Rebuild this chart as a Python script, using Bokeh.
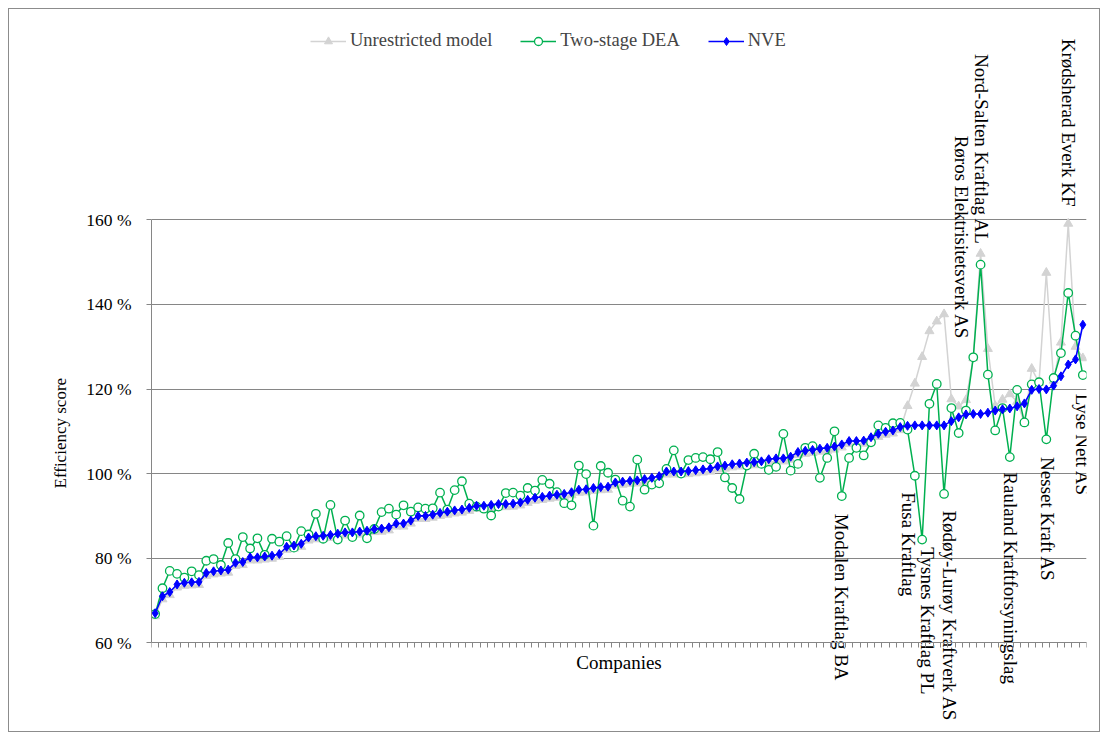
import math
from bokeh.plotting import figure
from bokeh.models import FixedTicker, Range1d, Legend, LegendItem, Title, LinearAxis, Grid
from bokeh.core.properties import value
from bokeh.embed import file_html
from bokeh.resources import INLINE

# ---------------- data (efficiency scores in %) ----------------
nve = [
    67.0, 71.0, 72.0, 73.8, 74.2, 74.3, 74.4, 76.5, 76.9, 77.1,
    77.3, 78.9, 79.1, 80.2, 80.2, 80.4, 80.6, 81.0, 82.7, 83.0,
    83.4, 84.9, 85.2, 85.3, 85.5, 85.8, 86.1, 86.1, 86.3, 86.5,
    86.9, 87.0, 87.3, 88.2, 88.2, 88.9, 90.0, 90.0, 90.3, 90.7,
    91.0, 91.3, 91.5, 91.9, 92.4, 92.4, 92.6, 92.8, 92.8, 92.9,
    93.2, 93.8, 94.3, 94.5, 94.8, 95.0, 95.2, 95.6, 96.2, 96.3,
    96.6, 96.8, 96.9, 97.9, 98.1, 98.3, 98.4, 98.7, 99.0, 99.4,
    100.5, 100.5, 100.5, 100.6, 100.8, 101.0, 101.2, 101.7, 101.9, 102.2,
    102.4, 102.6, 102.7, 102.9, 103.4, 103.6, 103.6, 104.0, 105.1, 105.4,
    105.6, 105.9, 106.1, 106.4, 106.9, 107.7, 107.7, 107.8, 108.6, 109.4,
    109.9, 110.2, 111.0, 111.3, 111.4, 111.4, 111.4, 111.4, 111.4, 112.4,
    113.3, 114.0, 114.1, 114.1, 114.4, 114.9, 115.2, 115.4, 115.9, 116.6,
    119.8, 120.0, 119.9, 120.8, 123.0, 125.8, 127.0, 135.2,
]

two_stage = [
    66.8, 72.9, 77.0, 76.3, 75.4, 76.9, 76.0, 79.4, 79.8, 78.4,
    83.6, 79.8, 85.0, 82.3, 84.7, 80.8, 84.6, 83.9, 85.2, 82.5,
    86.4, 85.6, 90.5, 84.6, 92.6, 84.4, 88.9, 85.0, 90.1, 84.7,
    86.9, 90.9, 91.7, 90.3, 92.5, 91.0, 92.0, 91.7, 91.8, 95.5,
    91.5, 96.1, 98.2, 92.9, 92.2, 91.7, 90.1, 92.2, 95.4, 95.5,
    94.8, 96.6, 96.0, 98.5, 97.6, 95.6, 93.0, 92.5, 101.9, 99.9,
    87.7, 101.8, 100.2, 98.6, 93.6, 92.2, 103.3, 96.2, 97.4, 97.7,
    101.1, 105.5, 100.0, 103.2, 103.7, 103.9, 103.4, 105.1, 99.1, 96.6,
    94.0, 101.9, 104.7, 102.3, 100.9, 101.6, 109.4, 100.7, 102.3, 106.1,
    106.5, 99.0, 103.7, 110.0, 94.7, 103.7, 106.1, 104.3, 107.4, 111.4,
    110.8, 111.9, 112.0, 110.4, 99.5, 84.4, 116.5, 121.2, 95.2, 115.5,
    109.6, 114.9, 127.5, 149.4, 123.4, 110.2, 115.5, 103.9, 119.8, 112.1,
    121.1, 121.6, 108.1, 122.6, 128.5, 142.7, 132.6, 123.3,
]

unrestricted = [
    66.3, 70.3, 71.3, 73.1, 73.5, 73.6, 73.7, 75.8, 76.2, 76.4,
    76.6, 78.2, 78.4, 79.5, 79.5, 79.7, 79.9, 80.3, 82.0, 82.3,
    82.7, 84.2, 84.5, 84.6, 84.8, 85.1, 85.4, 85.4, 85.6, 85.8,
    86.2, 86.3, 86.6, 87.5, 87.5, 88.2, 89.3, 89.3, 89.6, 90.0,
    90.3, 90.6, 90.8, 91.2, 91.7, 91.7, 91.9, 92.1, 92.1, 92.2,
    92.5, 93.1, 93.6, 93.8, 94.1, 94.3, 94.5, 94.9, 95.5, 95.6,
    95.9, 96.1, 96.2, 97.2, 97.4, 97.6, 97.7, 98.0, 98.3, 98.7,
    99.8, 99.8, 99.8, 99.9, 100.1, 100.3, 100.5, 101.0, 101.2, 101.5,
    101.7, 101.9, 102.0, 102.2, 102.7, 102.9, 102.9, 103.3, 104.4, 104.7,
    104.9, 105.2, 105.4, 105.7, 106.2, 107.0, 107.0, 107.1, 107.9, 108.7,
    109.2, 109.5, 110.3, 116.0, 121.3, 127.6, 133.7, 136.0, 137.7, 117.6,
    115.9, 117.4, 127.3, 152.0, 129.5, 116.0, 117.5, 118.8, 117.0, 112.0,
    124.8, 121.5, 147.5, 122.0, 131.0, 159.1, 130.0, 127.3,
]

companies = list(range(len(nve)))

y_ticks = [60, 80, 100, 120, 140, 160]
y_tick_labels = ["60 %", "80 %", "100 %", "120 %", "140 %", "160 %"]

series_names = ["Unrestricted model", "Two-stage DEA", "NVE"]
x_title = "Companies"
y_title = "Efficiency score"

# annotated companies: name, position on the company axis, start of the text (score %)
label_names = [
    "Modalen Kraftlag BA", "Fusa Kraftlag", "Tysnes Kraftlag PL",
    "Rødøy-Lurøy Kraftverk AS", "Rauland Kraftforsyningslag", "Nesset Kraft AS",
    "Lyse Nett AS", "Nord-Salten Kraftlag AL", "Røros Elektrisitetsverk AS",
    "Krødsherad Everk KF",
]
label_company = [94.0, 103.1, 105.7, 108.8, 117.1, 122.1, 126.9, 113.1, 110.4, 125.0]
label_start = [90.5, 95.6, 82.6, 91.3, 100.3, 103.9, 118.9, 199.2, 179.9, 202.8]

# ---------------- layout ----------------
FONT = "Liberation Serif"
AXIS_GREY = "#868686"
W, H = 1092, 724
LEFT, RIGHT = 142, 15
# the frame spans the full height; 60 % .. 160 % occupies 423 px of it
Y_LO, Y_HI = 38.56, 209.72

p = figure(
    width=W, height=H,
    output_backend="svg", toolbar_location=None,
    x_range=Range1d(-0.5, len(companies) - 0.5),
    y_range=Range1d(Y_LO, Y_HI),
    x_axis_location=None, y_axis_location=None,
    min_border_left=LEFT, min_border_right=RIGHT,
    min_border_top=0, min_border_bottom=0,
)
p.styles = {"border": "1px solid #8c8c8c", "margin-left": "8px", "margin-top": "8px"}
p.outline_line_color = None
p.background_fill_color = "white"
p.border_fill_color = "white"

yt = FixedTicker(ticks=y_ticks)
yaxis = LinearAxis(ticker=yt, bounds=(y_ticks[0], y_ticks[-1]))
yaxis.major_label_overrides = {t: l for t, l in zip(y_ticks, y_tick_labels)}
yaxis.major_label_text_font = FONT
yaxis.major_label_text_font_size = "17.5px"
yaxis.major_label_text_color = "black"
yaxis.major_label_standoff = 15
yaxis.major_tick_in = 0
yaxis.major_tick_out = 5
yaxis.minor_tick_in = 0
yaxis.minor_tick_out = 0
yaxis.axis_line_color = AXIS_GREY
yaxis.major_tick_line_color = AXIS_GREY
p.add_layout(yaxis, "left")

xaxis = LinearAxis(
    ticker=FixedTicker(ticks=[], minor_ticks=[k - 0.5 for k in range(len(companies) + 1)]),
    fixed_location=y_ticks[0],
)
xaxis.major_tick_in = 0
xaxis.major_tick_out = 0
xaxis.minor_tick_in = 0
xaxis.minor_tick_out = 5
xaxis.minor_tick_line_color = AXIS_GREY
xaxis.axis_line_color = AXIS_GREY
xaxis.major_label_text_font_size = "0px"
p.add_layout(xaxis, "below")

ytitle = Title(text=y_title, align="left", offset=245, standoff=27,
               text_font=FONT, text_font_size="17px", text_font_style="normal",
               text_color="black")
p.add_layout(ytitle, "left")

p.xgrid.visible = False
p.add_layout(Grid(dimension=1, ticker=yt, grid_line_color=AXIS_GREY, grid_line_width=1))

# x-axis title, centred under the company axis
p.text(x=[(len(companies) - 1) / 2], y=[55.3], text=[x_title],
       text_align="center", text_baseline="middle",
       text_font=value(FONT), text_font_size="19px", text_color="black")

# ---------------- series ----------------
g_line = p.line(companies, unrestricted, line_color="#d3d3d3", line_width=1.5)
g_pts = p.scatter(companies, unrestricted, marker="triangle", size=9,
                  fill_color="#d3d3d3", line_color="#d3d3d3")
t_line = p.line(companies, two_stage, line_color="#00b050", line_width=1.5)
t_pts = p.scatter(companies, two_stage, marker="circle", size=8.5,
                  fill_color="white", line_color="#00b050", line_width=1.3)
n_line = p.line(companies, nve, line_color="#0000ff", line_width=1.6)
n_pts = p.scatter(companies, nve, marker="diamond", size=9,
                  fill_color="#0000ff", line_color="#0000ff")

legend = Legend(
    items=[
        LegendItem(label=series_names[0], renderers=[g_line, g_pts]),
        LegendItem(label=series_names[1], renderers=[t_line, t_pts]),
        LegendItem(label=series_names[2], renderers=[n_line, n_pts]),
    ],
    orientation="horizontal", location=(159, 682),
    border_line_color=None, background_fill_alpha=0,
    padding=0, margin=0, glyph_width=36, glyph_height=20,
    label_standoff=4, spacing=28,
    label_text_font=FONT, label_text_font_size="18.5px",
)
p.add_layout(legend)

# company annotations (rotated, reading downwards)
p.text(x=label_company, y=label_start, text=label_names,
       angle=-math.pi / 2, text_align="left", text_baseline="middle",
       text_font=value(FONT), text_font_size="19px", text_color="black")

open("out.html", "w").write(file_html(p, INLINE))
